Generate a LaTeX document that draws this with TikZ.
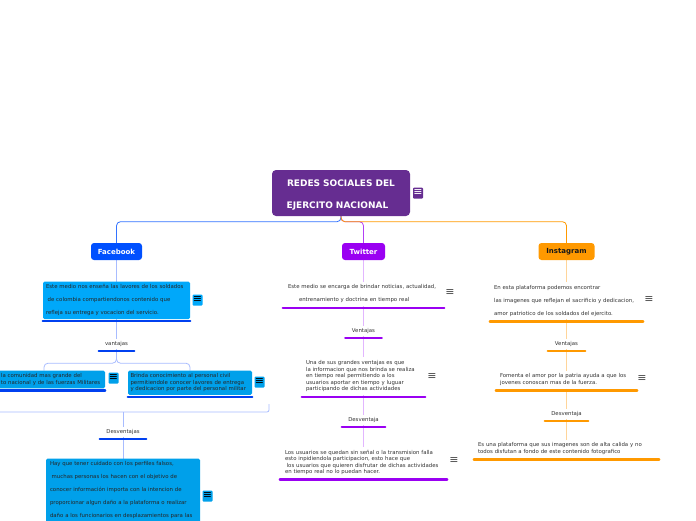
\documentclass[tikz,border=0pt]{standalone}
\usepackage{fontspec}
\setmainfont{DejaVu Sans}
\usepackage{tikz}
\usetikzlibrary{positioning,backgrounds}

\definecolor{rootpurple}{HTML}{662D91}
\definecolor{fbblue}{HTML}{0050FF}
\definecolor{fbbar}{HTML}{0040F0}
\definecolor{fbbox}{HTML}{00A8FA}
\definecolor{fbboxdark}{HTML}{00A0EA}
\definecolor{fbline}{HTML}{A8BCFF}
\definecolor{twpurple}{HTML}{9A00F2}
\definecolor{twline}{HTML}{E2B6FF}
\definecolor{igorange}{HTML}{FF9900}
\definecolor{igline}{HTML}{FFD59A}
\definecolor{textgray}{HTML}{333333}

\tikzset{
  topic/.style={rounded corners=3pt, fill=#1, font=\fontsize{7}{8}\selectfont\bfseries,
    text=white, minimum height=17pt, inner sep=2pt},
  barunder/.style={append after command={([yshift=-2pt]\tikzlastnode.south west)
    edge[draw=#1, line width=2.5pt, line cap=round] ([yshift=-2pt]\tikzlastnode.south east)}},
  lbl/.style={font=\fontsize{5.4}{6}\selectfont, text=textgray, inner xsep=0pt,
    inner ysep=2.4pt, barunder=#1},
  note/.style={font=\fontsize{5.4}{6.5}\selectfont, text=textgray, align=left,
    inner ysep=3pt, anchor=north},
  fbnote/.style={note, fill=#1, rounded corners=1.5pt, text=black!85},
  menu/.style={font=\fontsize{11}{11}\selectfont, text=black!70, inner sep=0pt},
  menubox/.style={rounded corners=1pt, fill=#1, minimum width=10pt, minimum height=11pt,
    inner sep=0pt, font=\fontsize{11}{11}\selectfont},
  conn/.style={draw=#1, line width=0.8pt},
}

\begin{document}
\begin{tikzpicture}[x=1pt, y=-1pt]
\useasboundingbox (0,0) rectangle (696,520);

% central topic
\node[fill=rootpurple, rounded corners=4pt, minimum width=138pt, minimum height=46pt,
  text width=130pt, align=center, text=white, font=\fontsize{9}{22}\selectfont\bfseries]
  (root) at (341,193) {\rule{0pt}{10.5pt}REDES SOCIALES DEL\hspace*{9pt}\\EJERCITO NACIONAL\hspace*{7pt}};
\node[menubox=rootpurple, text=white] (rootm) at (418,193) {≡};

% main branches
\node[topic=fbblue, minimum width=51pt] (fb) at (116.5,251.5) {Facebook};
\node[topic=twpurple, minimum width=43pt] (tw) at (363.5,251.5) {Twitter};
\node[topic=igorange, minimum width=56pt, text=black!90] (ig) at (566.5,251.5) {Instagram};

% Facebook
\node[fbnote=fbbox, text width=141pt, inner xsep=3pt, barunder=fbbar,
  font=\fontsize{5.4}{13}\selectfont] (fbdesc) at (116.5,281.5)
  {Este medio nos enseña las lavores de los soldados\\\hspace*{1.7pt}de colombia compartiendonos contenido que\\refleja su entrega y vocacion del servicio.};
\node[menubox=fbbox] (fbdescm) at (197.5,300) {≡};

\node[lbl=fbbar, minimum width=35pt] (fbvent) at (116.5,344) {vantajas};

\node[fbnote=fbboxdark, text width=118pt, inner xsep=2pt, barunder=fbbar] (fbv1) at (44,370.5)
  {\hspace*{16pt}la comunidad mas grande del\\\hspace*{16pt}to nacional y de las fuerzas Militares};
\node[menubox=fbboxdark] (fbv1m) at (113.5,378) {≡};
\node[fbnote=fbboxdark, text width=119pt, inner xsep=2.5pt, barunder=fbbar] (fbv2) at (190,370.5)
  {Brinda conocimiento al personal civil\\permitiendole conocer lavores de entrega\\y dedicacion por parte del personal militar};
\node[menubox=fbboxdark] (fbv2m) at (259.5,382) {≡};

\coordinate (fbsumL) at (-5,404);
\coordinate (fbsumM) at (123,412);
\coordinate (fbsumR) at (269,404);

\node[lbl=fbbar, minimum width=46pt] (fbdesv) at (123,432) {Desventajas};
\node[fbnote=fbboxdark, text width=146pt, inner xsep=4pt,
  font=\fontsize{5.4}{13}\selectfont] (fbcont) at (123,458.5)
  {Hay que tener cuidado con los perfiles falsos,\\\hspace*{1.7pt}muchas personas los hacen con el objetivo de\\conocer información importa con la intencion de\\proporcionar algun daño a la plataforma o realizar\\daño a los funcionarios en desplazamientos para las\rule[-16pt]{0pt}{1pt}};
\node[menubox=fbboxdark] (fbcontm) at (207.5,496) {≡};

% Twitter
\node[note, text width=151pt, inner xsep=5pt, barunder=twpurple,
  font=\fontsize{5.4}{13}\selectfont] (twdesc) at (363.5,281.5)
  {Este medio se encarga de brindar noticias, actualidad,\\\hspace*{11pt}entrenamiento y doctrina en tiempo real};
\node[menu] (twdescm) at (450,293) {≡};

\node[lbl=twpurple, minimum width=36pt] (twvent) at (363.5,331) {Ventajas};
\node[note, text width=115pt, inner xsep=4pt, barunder=twpurple] (twv) at (363.5,357.2)
  {Una de sus grandes ventajas es que\\la informacion que nos brinda se realiza\\en tiempo real permitiendo a los\\usuarios aportar en tiempo y luguar\\participando de dichas actividades};
\node[menu] (twvm) at (432,376.5) {≡};

\node[lbl=twpurple, minimum width=43pt] (twdesv) at (363.5,420) {Desventaja};
\node[note, text width=157pt, inner xsep=5pt, barunder=twpurple,
  font=\fontsize{5.4}{6.4}\selectfont] (twd) at (363.5,446.8)
  {Los usuarios se quedan sin señal o la transmision falla\\esto inpidiendola participacion, esto hace que\\\hspace*{1.7pt}los usuarios que quieren disfrutar de dichas actividades\\en tiempo real no lo puedan hacer.};
\node[menu] (twdm) at (454,461) {≡};

% Instagram
\node[note, text width=145pt, inner xsep=4pt, barunder=igorange,
  font=\fontsize{5.4}{13}\selectfont] (igdesc) at (566.5,281.8)
  {En esta plataforma podemos encontrar\\las imagenes que reflejan el sacrificio y dedicacion,\\amor patriotico de los soldados del ejercito.};
\node[menu] (igdescm) at (649,300) {≡};

\node[lbl=igorange, minimum width=37pt] (igvent) at (566.5,344) {Ventajas};
\node[note, text width=133pt, inner xsep=4pt, barunder=igorange] (igv) at (566.5,370.5)
  {Fomenta el amor por la patria ayuda a que los\\jovenes conoscan mas de la fuerza.};
\node[menu] (igvm) at (642,379) {≡};

\node[lbl=igorange, minimum width=43pt] (igdesv) at (566.5,414) {Desventaja};
\node[note, text width=177pt, inner xsep=4pt, barunder=igorange] (igd) at (566.5,439.5)
  {Es una plataforma que sus imagenes son de alta calida y no\\todos disfutan a fondo de este contenido fotografico};

% connectors
\begin{scope}[on background layer]
  \draw[conn=twpurple!75, rounded corners=4pt] (root.south) -- ++(0,5.5) -| (tw.north);
  \draw[conn=fbblue!80, rounded corners=4pt] (root.south) -- ++(0,5.5) -| (fb.north);
  \draw[conn=igorange, rounded corners=4pt] (root.south) -- ++(0,5.5) -| (ig.north);

  \draw[conn=fbline] (fb) -- (fbdesc);
  \draw[conn=fbline] (fbdesc) -- (fbvent);
  \draw[conn=fbline, rounded corners=4pt] (fbvent.south) -- ++(0,14) -| (fbv1);
  \draw[conn=fbline, rounded corners=4pt] (fbvent.south) -- ++(0,14) -| (fbv2);
  \draw[conn=fbline, rounded corners=2pt] (fbsumL) |- (fbsumM) -| (fbsumR);
  \draw[conn=fbline] (fbsumM) -- (fbdesv);
  \draw[conn=fbline] (fbdesv) -- (fbcont);

  \draw[conn=twline] (tw) -- (twdesc);
  \draw[conn=twline] (twdesc) -- (twvent);
  \draw[conn=twline] (twvent) -- (twv);
  \draw[conn=twline] (twv) -- (twdesv);
  \draw[conn=twline] (twdesv) -- (twd);

  \draw[conn=igline] (ig) -- (igdesc);
  \draw[conn=igline] (igdesc) -- (igvent);
  \draw[conn=igline] (igvent) -- (igv);
  \draw[conn=igline] (igv) -- (igdesv);
  \draw[conn=igline] (igdesv) -- (igd);
\end{scope}

\end{tikzpicture}
\end{document}
